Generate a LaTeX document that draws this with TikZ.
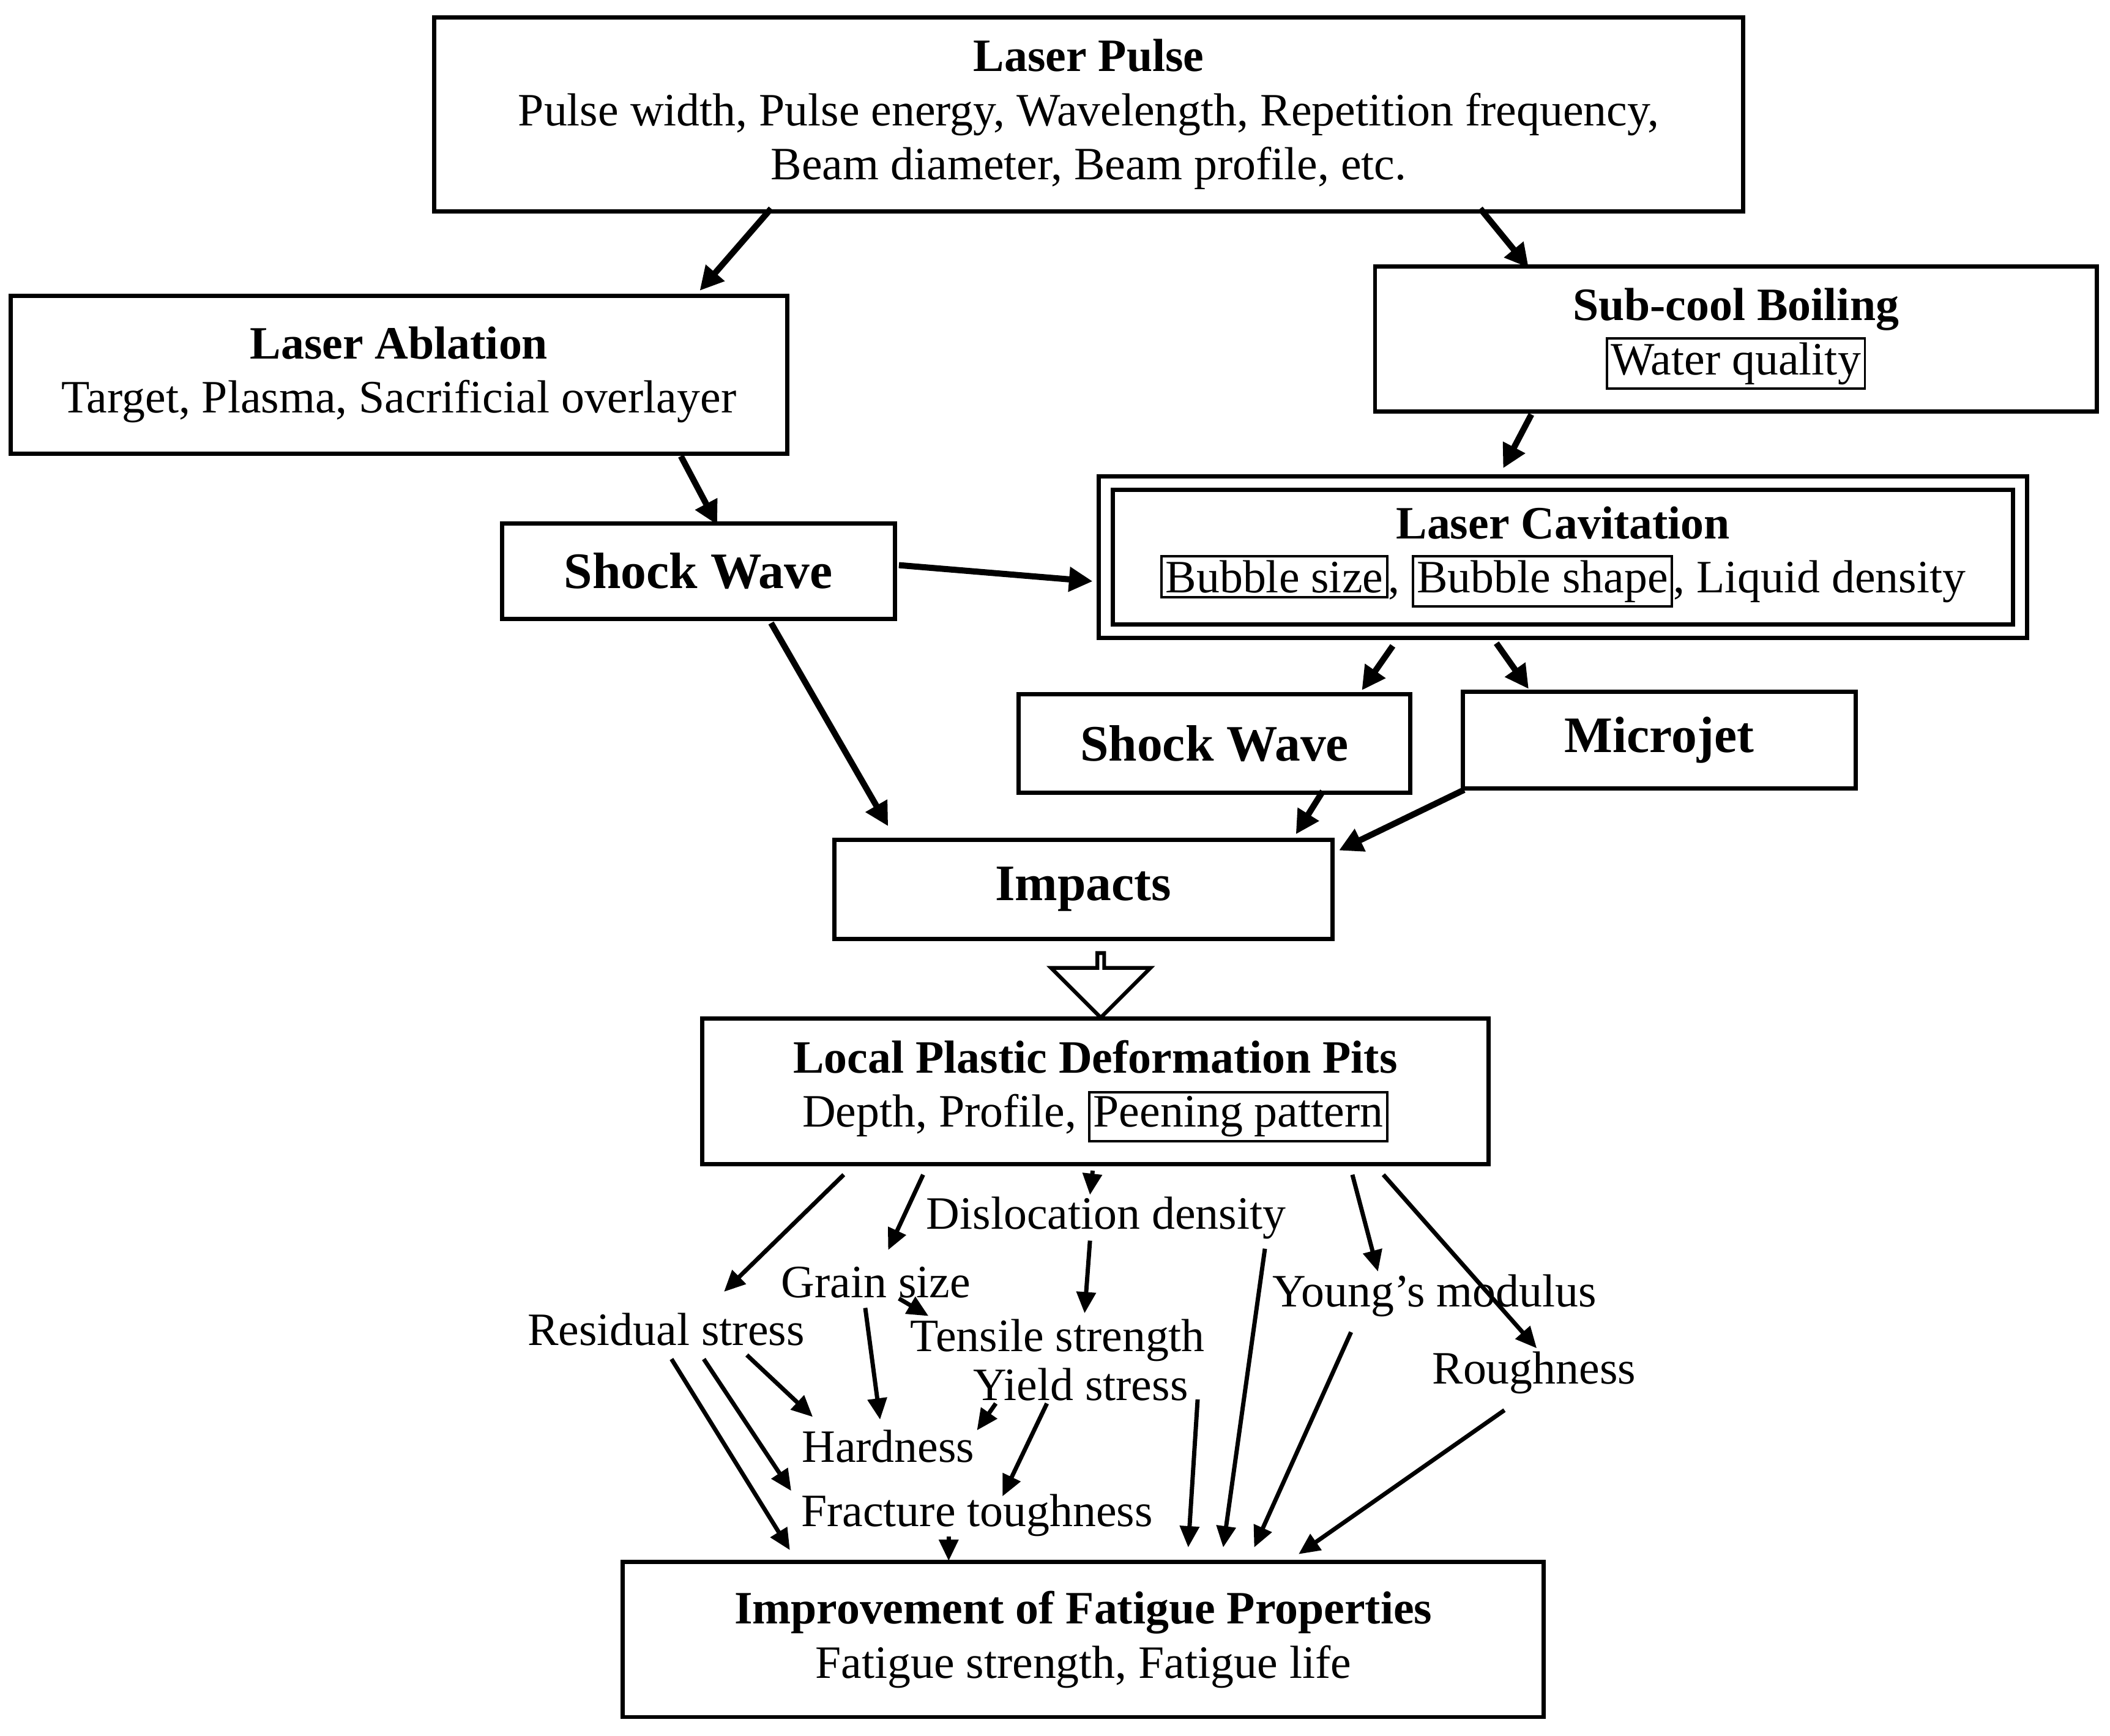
\documentclass[tikz,border=0pt]{standalone}
\usepackage{fontspec}
\setmainfont{Liberation Serif}
\usetikzlibrary{arrows.meta,shapes.arrows}
\newcommand{\bx}[1]{{\setlength{\fboxsep}{0.6pt}\setlength{\fboxrule}{0.5pt}\fbox{#1}}}
\begin{document}
\begin{tikzpicture}[x=0.01cm,y=-0.01cm,
 box/.style={draw,line width=0.9pt,inner sep=0pt,align=center,font=\fontsize{9.8}{11.4}\selectfont},
 lbl/.style={inner sep=1pt,font=\fontsize{9.8}{11.4}\selectfont},
 arr/.style={line width=1.3pt,-{Triangle[length=5pt,width=5pt]}},
 arrs/.style={line width=0.9pt,-{Triangle[length=4.5pt,width=4pt]}}]
\useasboundingbox (0,0) rectangle (1568,1290);
\node[box,minimum width=9.72cm,minimum height=1.44cm] (lp) at (809,85) {\textbf{Laser Pulse}\\Pulse width, Pulse energy, Wavelength, Repetition frequency,\\Beam diameter, Beam profile, etc.};
\node[box,minimum width=5.77cm,minimum height=1.17cm] (la) at (296.5,278.5) {\textbf{Laser Ablation}\\Target, Plasma, Sacrificial overlayer};
\node[box,minimum width=5.36cm,minimum height=1.08cm] (sb) at (1290,252) {\textbf{Sub-cool Boiling}\\\bx{Water quality}};
\node[box,minimum width=2.92cm,minimum height=0.71cm,font=\fontsize{10.8}{12}\selectfont\bfseries] (sw1) at (519,424.5) {Shock Wave};
\node[box,minimum width=6.79cm,minimum height=1.10cm,double,double distance=2pt] (lc) at (1161.5,414) {\textbf{Laser Cavitation}\\\bx{Bubble size}, \bx{Bubble shape}, Liquid density};
\node[box,minimum width=2.91cm,minimum height=0.73cm,font=\fontsize{10.8}{12}\selectfont\bfseries] (sw2) at (902.5,552.5) {Shock Wave};
\node[box,minimum width=2.92cm,minimum height=0.72cm,font=\fontsize{10.8}{12}\selectfont\bfseries] (mj) at (1233,550) {Microjet};
\node[box,minimum width=3.70cm,minimum height=0.74cm,font=\fontsize{10.8}{12}\selectfont\bfseries] (im) at (805,661) {Impacts};
\node[box,minimum width=5.84cm,minimum height=1.08cm] (pd) at (814,811) {\textbf{Local Plastic Deformation Pits}\\Depth, Profile, \bx{Peening pattern}};
\node[box,minimum width=6.84cm,minimum height=1.15cm] (fp) at (805,1218.5) {\textbf{Improvement of Fatigue Properties}\\Fatigue strength, Fatigue life};
\node[single arrow,draw,line width=0.8pt,shape border rotate=270,minimum width=0.74cm,single arrow head extend=0.19cm,minimum height=0.48cm,inner sep=0pt] (ha) at (818,731) {};
\node[lbl] (dd) at (822,905) {Dislocation density};
\node[lbl] (gs) at (651,953) {Grain size};
\node[lbl] (ym) at (1066,963) {Young’s modulus};
\node[lbl] (rs) at (495,988) {Residual stress};
\node[lbl] (ts) at (786,996) {Tensile strength};
\node[lbl] (ys) at (803,1029) {Yield stress};
\node[lbl] (ro) at (1140,1020) {Roughness};
\node[lbl] (hd) at (660,1075) {Hardness};
\node[lbl] (ft) at (726,1126) {Fracture toughness};
\draw[arr] (573,155)--(520,216);
\draw[arr] (1100,155)--(1136,199);
\draw[arr] (506,339)--(533,390);
\draw[arr] (668,420)--(812,432);
\draw[arr] (1138,308)--(1117,348);
\draw[arr] (573,463)--(660,614);
\draw[arr] (1035,480)--(1012,513);
\draw[arr] (1112,478)--(1136,512);
\draw[arr] (983,588)--(963,620);
\draw[arr] (1088,587)--(995,632);
\draw[arrs] (627,873)--(538,960);
\draw[arrs] (686,873)--(660,929);
\draw[arrs] (812,870)--(810,888);
\draw[arrs] (810,922)--(806,976);
\draw[arrs] (1005,873)--(1024,945);
\draw[arrs] (1028,873)--(1142,1002);
\draw[arrs] (668,965)--(690,978);
\draw[arrs] (643,972)--(654,1055);
\draw[arrs] (555,1007)--(604,1053);
\draw[arrs] (523,1010)--(588,1108);
\draw[arrs] (499,1010)--(587,1152);
\draw[arrs] (740,1043)--(726,1063);
\draw[arrs] (778,1043)--(745,1112);
\draw[arrs] (705,1142)--(705,1160);
\draw[arrs] (890,1040)--(883,1150);
\draw[arrs] (940,928)--(909,1150);
\draw[arrs] (1004,990)--(932,1150);
\draw[arrs] (1118,1048)--(965,1155);
\end{tikzpicture}
\end{document}
